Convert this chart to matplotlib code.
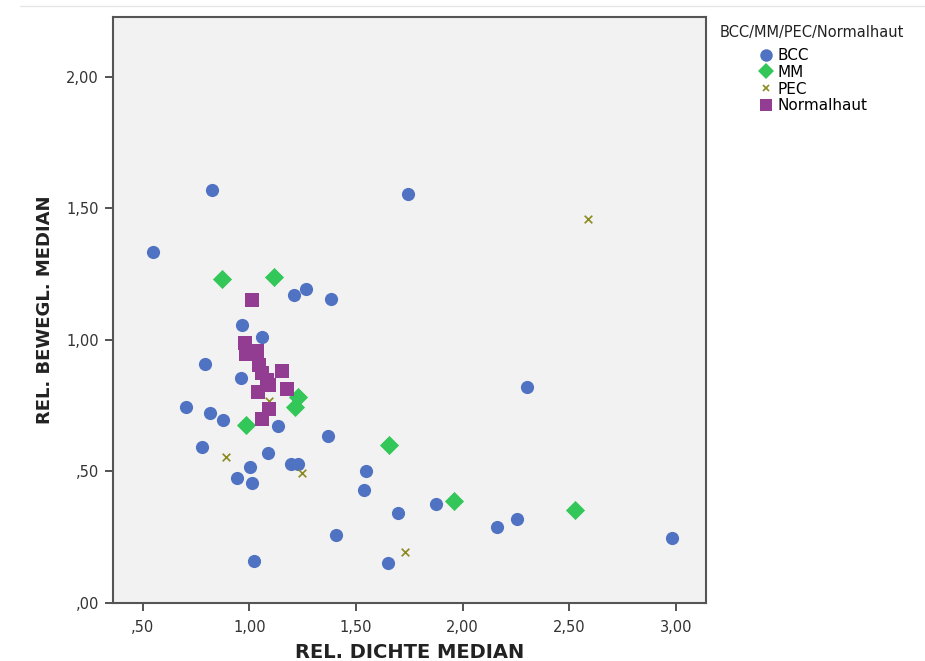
import matplotlib
matplotlib.use("Agg")
import matplotlib.pyplot as plt
from matplotlib.ticker import FuncFormatter, FixedLocator
from matplotlib.lines import Line2D

# ---- data ----
bcc_x = [0.548, 0.825, 1.744, 1.210, 1.266, 1.383, 0.966, 1.060, 0.792, 0.961,
         2.302, 0.703, 0.816, 0.877, 1.134, 1.369, 0.778, 1.088, 1.003, 1.195,
         1.228, 1.547, 0.942, 1.013, 1.538, 1.876, 1.697, 2.162, 2.256, 1.406,
         2.981, 1.022, 1.650]
bcc_y = [1.334, 1.569, 1.554, 1.170, 1.193, 1.155, 1.056, 1.011, 0.908, 0.855,
         0.821, 0.745, 0.722, 0.695, 0.672, 0.634, 0.593, 0.570, 0.517, 0.528,
         0.528, 0.502, 0.475, 0.456, 0.429, 0.376, 0.342, 0.289, 0.319, 0.258,
         0.247, 0.160, 0.152]

mm_x = [0.873, 1.116, 1.228, 1.214, 0.985, 1.655, 1.960, 2.527]
mm_y = [1.231, 1.239, 0.783, 0.745, 0.676, 0.600, 0.388, 0.353]

pec_x = [2.588, 1.094, 0.891, 1.248, 1.730]
pec_y = [1.459, 0.768, 0.555, 0.494, 0.194]

norm_x = [1.012, 0.980, 1.036, 0.984, 1.045, 1.059, 1.083, 1.092, 1.041, 1.153,
          1.177, 1.092, 1.059]
norm_y = [1.151, 0.988, 0.957, 0.946, 0.904, 0.874, 0.847, 0.828, 0.802, 0.881,
          0.813, 0.737, 0.699]

x_ticks = [0.5, 1.0, 1.5, 2.0, 2.5, 3.0]
y_ticks = [0.0, 0.5, 1.0, 1.5, 2.0]

legend_title = "BCC/MM/PEC/Normalhaut"
labels = ["BCC", "MM", "PEC", "Normalhaut"]
x_label = "REL. DICHTE MEDIAN"
y_label = "REL. BEWEGL. MEDIAN"

c_bcc = "#4F72C3"
c_mm = "#33C659"
c_pec = "#8B8A1E"
c_norm = "#923D92"

# ---- figure ----
fig = plt.figure(figsize=(9.25, 6.61), dpi=100)
fig.patch.set_facecolor("white")
W, H = 925, 661
ax = fig.add_axes([113 / W, 1 - 603 / H, (706 - 113) / W, (603 - 17) / H])
ax.set_facecolor("#F2F2F2")

ax.scatter(bcc_x, bcc_y, s=90, marker="o", color=c_bcc, linewidths=0, zorder=3)
ax.scatter(mm_x, mm_y, s=95, marker="D", color=c_mm, linewidths=0, zorder=3)
ax.scatter(pec_x, pec_y, s=30, marker="x", color=c_pec, linewidths=1.2, zorder=3)
ax.scatter(norm_x, norm_y, s=90, marker="s", color=c_norm, linewidths=0, zorder=3)

ax.set_xlim(0.361, 3.141)
ax.set_ylim(0.0, 2.227)

def fmt(v, pos):
    s = f"{v:.2f}".replace(".", ",")
    if s.startswith("0"):
        s = s[1:]
    return s

ax.xaxis.set_major_locator(FixedLocator(x_ticks))
ax.yaxis.set_major_locator(FixedLocator(y_ticks))
ax.xaxis.set_major_formatter(FuncFormatter(fmt))
ax.yaxis.set_major_formatter(FuncFormatter(fmt))
ax.tick_params(axis="both", direction="out", length=6, width=1.3, color="#444444",
               labelsize=10.5, labelcolor="#333333", pad=4)
ax.tick_params(axis="x", pad=6)

for sp in ax.spines.values():
    sp.set_color("#555555")
    sp.set_linewidth(1.5)

ax.set_xlabel(x_label, fontsize=14, fontweight="bold", color="#222222", labelpad=6)
ax.set_ylabel(y_label, fontsize=13, fontweight="bold", color="#222222", labelpad=9)

# legend
fig.text(720 / W, 1 - 32 / H, legend_title, fontsize=10.5, color="#222222",
         ha="left", va="center")
handles = [
    Line2D([], [], linestyle="none", marker="o", markersize=9, color=c_bcc, markeredgewidth=0),
    Line2D([], [], linestyle="none", marker="D", markersize=8.5, color=c_mm, markeredgewidth=0),
    Line2D([], [], linestyle="none", marker="x", markersize=5, color=c_pec, markeredgewidth=1.2),
    Line2D([], [], linestyle="none", marker="s", markersize=9, color=c_norm, markeredgewidth=0),
]
fig.legend(handles, labels, loc="upper left", bbox_to_anchor=(760 / W, 1 - 48 / H),
           frameon=False, fontsize=11, handlelength=0.8, handletextpad=0.35,
           labelspacing=0.12, borderaxespad=0, borderpad=0)

# faint top border line
fig.add_artist(Line2D([20 / W, 1.0], [1 - 6 / H, 1 - 6 / H], color="#E6E6E6", linewidth=1))

fig.savefig("out.png", dpi=100)
